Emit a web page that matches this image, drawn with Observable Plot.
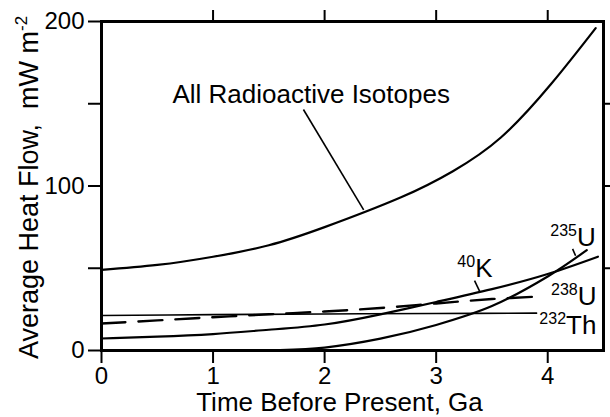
<!DOCTYPE html>
<html><head><meta charset="utf-8">
<script src="https://cdn.jsdelivr.net/npm/d3@7"></script>
<script src="https://cdn.jsdelivr.net/npm/@observablehq/plot@0.6"></script>
<style>html,body{margin:0;padding:0;background:#fff;overflow:hidden}</style>
</head><body><div id="chart"></div>
<script>
// Tick values
const xTicks = [0, 1, 2, 3, 4];
const xTopTicks = [1, 2, 3, 4];
const yTicks = [0, 100, 200];
const yMinorTicks = [50, 150];
const yRightTicks = [50, 100, 150];

// Series (age in Ga, heat flow in mW m^-2)
const ageAll = [0, 0.5, 1, 1.5, 2, 2.68, 3.15, 3.58, 4.03, 4.43];
const heatAll = [49, 52, 57, 64, 75, 93, 109, 129.5, 162, 196];
const ageTh = [0, 1, 2, 3, 3.9];
const heatTh = [21.3, 21.8, 22.2, 22.5, 22.7];
const ageU238 = [0, 0.5, 1, 1.5, 2, 2.5, 3, 3.5, 3.93];
const heatU238 = [16.4, 18.3, 20.2, 22, 23.7, 25.8, 28.6, 31.3, 32.8];
const ageK = [0, 0.5, 1, 1.5, 2, 2.5, 3, 3.5, 4, 4.45];
const heatK = [7.3, 8.4, 10, 12.6, 15.8, 22, 29.5, 37.3, 46.5, 57];
const ageU235 = [1.6, 2, 2.5, 3, 3.5, 4, 4.35];
const heatU235 = [0.2, 1.8, 7.2, 15.5, 27, 45, 61];

// Annotations (data units)
const allLabel = ["All Radioactive Isotopes"];
const allLabelX = [0.636];
const allLabelY = [150.2];
const isoSup = ["235", "40", "238", "232"];
const isoBase = ["U", "K", "U", "Th"];
const isoX = [4.023, 3.19, 4.03, 3.925];
const isoY = [63.8, 44.4, 27.4, 10.3];
const leaderX1 = [1.81, 3.344, 4.223];
const leaderY1 = [146.5, 42.5, 61.8];
const leaderX2 = [2.35, 3.39, 4.25];
const leaderY2 = [85.5, 36.0, 57.6];

const xLabel = "Time Before Present, Ga";
const yLabel = "Average Heat Flow,\u00A0 mW m";
const yLabelSup = "-2";

const rows = (ages, heats) => ages.map((a, i) => ({age: a, heat: heats[i]}));
const leaders = leaderX1.map((x, i) => ({x1: x, y1: leaderY1[i], x2: leaderX2[i], y2: leaderY2[i]}));

const lineOpts = {x: "age", y: "heat", curve: "catmull-rom", stroke: "black"};

const svg = Plot.plot({
  width: 610,
  height: 417,
  marginLeft: 101,
  marginRight: 7,
  marginTop: 21,
  marginBottom: 67,
  style: {fontFamily: "'Liberation Sans', Arial, sans-serif", color: "black", background: "white"},
  x: {domain: [0, 4.5], label: null},
  y: {domain: [0, 200], label: null},
  marks: [
    Plot.line(rows(ageAll, heatAll), {...lineOpts, curve: "natural", strokeWidth: 2.2}),
    Plot.line(rows(ageTh, heatTh), {...lineOpts, strokeWidth: 1.6}),
    Plot.line(rows(ageU238, heatU238), {...lineOpts, strokeWidth: 2.4, strokeDasharray: "24,13"}),
    Plot.line(rows(ageK, heatK), {...lineOpts, curve: "natural", strokeWidth: 2.2}),
    Plot.line(rows(ageU235, heatU235), {...lineOpts, strokeWidth: 2.2}),
    Plot.link(leaders, {x1: "x1", y1: "y1", x2: "x2", y2: "y2", stroke: "black", strokeWidth: 1.6}),
    Plot.text(allLabel, {x: (d, i) => allLabelX[i], y: (d, i) => allLabelY[i], text: d => d,
      textAnchor: "start", lineAnchor: "bottom", fontSize: 26, fill: "black"}),
    Plot.text(isoSup, {x: (d, i) => isoX[i], y: (d, i) => isoY[i], text: (d, i) => d + isoBase[i],
      textAnchor: "start", lineAnchor: "bottom", fontSize: 26, fill: "black"}),
    Plot.text([xLabel], {frameAnchor: "bottom", textAnchor: "middle", dx: -13, dy: 60, lineAnchor: "bottom", fontSize: 26, fill: "black"}),
    Plot.text([yLabel], {frameAnchor: "left", textAnchor: "middle", dx: -64, dy: 1.5, rotate: -90, lineAnchor: "bottom", fontSize: 27, fill: "black"}),
    Plot.frame({stroke: "black", strokeWidth: 3}),
    Plot.axisX({ticks: xTicks, tickSize: 13, tickPadding: 3, fontSize: 24, strokeWidth: 2, label: null, tickFormat: d => String(d)}),
    Plot.axisX({anchor: "top", ticks: xTopTicks, tickSize: 12, tickFormat: () => "", strokeWidth: 2, label: null}),
    Plot.axisY({ticks: yTicks, tickSize: 13, tickPadding: 4, fontSize: 24, strokeWidth: 2, label: null, tickFormat: d => String(d)}),
    Plot.axisY({ticks: yMinorTicks, tickSize: 13, tickFormat: () => "", strokeWidth: 2, label: null}),
    Plot.axisY({anchor: "right", ticks: yRightTicks, tickSize: 7, tickFormat: () => "", strokeWidth: 2, label: null})
  ]
});

// superscripts as tspans
d3.select(svg).selectAll("text").each(function () {
  const t = d3.select(this);
  const content = this.textContent;
  const j = isoSup.findIndex((s, k) => s + isoBase[k] === content);
  if (j >= 0) {
    t.text(null);
    t.append("tspan").attr("font-size", 16).attr("dy", -10).text(isoSup[j]);
    t.append("tspan").attr("dy", 10).text(isoBase[j]);
  } else if (content === yLabel) {
    t.append("tspan").attr("font-size", 17).attr("dy", -11).text(yLabelSup);
  }
});

document.getElementById("chart").appendChild(svg);
</script>
</body></html>
